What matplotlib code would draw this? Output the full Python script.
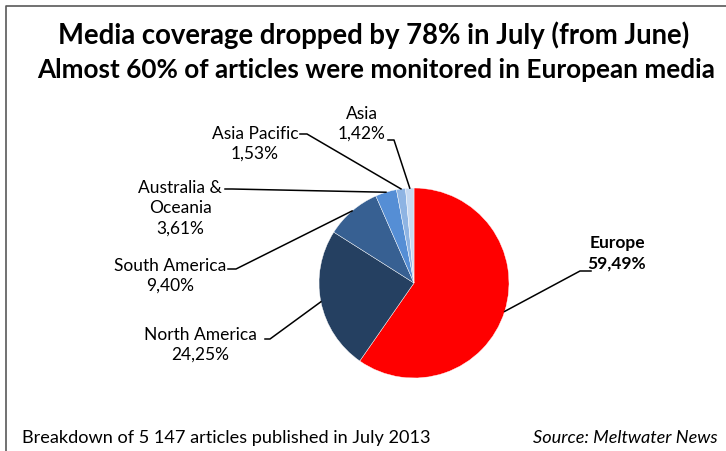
import numpy as np
import matplotlib
matplotlib.use("Agg")
import matplotlib.pyplot as plt

regions = ["Europe", "North America", "South America", "Australia &\nOceania",
           "Asia Pacific", "Asia"]
shares = [59.49, 24.25, 9.40, 3.61, 1.53, 1.42]
share_labels = ["59,49%", "24,25%", "9,40%", "3,61%", "1,53%", "1,42%"]
colors = ["#FF0000", "#254061", "#376092", "#558ED5", "#8EB4E3", "#C6D9F1"]

title1 = "Media coverage dropped by 78% in July (from June)"
title2 = "Almost 60% of articles were monitored in European media"
footer_left = "Breakdown of 5 147 articles published in July 2013"
footer_right = "Source: Meltwater News"

W, H = 726, 451
plt.rcParams['font.family'] = ['Lato', 'DejaVu Sans']

fig = plt.figure(figsize=(W / 100, H / 100), dpi=100)
ax = fig.add_axes([0, 0, 1, 1])
ax.set_xlim(0, W)
ax.set_ylim(0, H)
ax.set_aspect('equal')
ax.axis('off')

def py(y):
    # pixel row (from top) -> data y
    return H - y

# frame on top and left, as in the cropped screenshot
ax.plot([6, 6, W], [0, py(6), py(6)], color="#595959", lw=1.2)

cx, cy, r = 414, 283, 95
wedges, _ = ax.pie(shares, colors=colors, startangle=90, counterclock=False,
                   center=(cx, py(cy)), radius=r,
                   wedgeprops=dict(edgecolor="white", linewidth=0.3))
ax.set_xlim(0, W)
ax.set_ylim(0, H)

# label layout: text centre (x, y), elbow start, elbow end (pixels)
layout = [
    ((617, 253), (591, 271), (580, 271)),
    ((200, 345), (265, 339), (270, 339)),
    ((170, 276), (228, 269), (236, 269)),
    ((180, 208), (225, 189), (232, 189)),
    ((255, 144), (300, 134), (307, 134)),
    ((362, 124), (388, 140), (394, 140)),
]

for i, w in enumerate(wedges):
    mid = np.deg2rad((w.theta1 + w.theta2) / 2)
    ex = cx + r * np.cos(mid)
    ey = py(cy) + r * np.sin(mid)
    (tx, ty), (ax1, ay1), (ax2, ay2) = layout[i]
    ax.plot([ax1, ax2, ex], [py(ay1), py(ay2), ey], color="black", lw=1.1)
    bold = 'bold' if i == 0 else 'normal'
    ax.text(tx, py(ty), regions[i] + "\n" + share_labels[i], ha='center',
            va='center', fontsize=12.5, fontweight=bold, linespacing=1.32)

ax.text(374, py(35), title1, ha='center', va='center', fontsize=19.8,
        fontweight='bold')
ax.text(376, py(70), title2, ha='center', va='center', fontsize=18.8,
        fontweight='bold')
ax.text(22, py(438), footer_left, ha='left', va='center', fontsize=13.1)
ax.text(718, py(438), footer_right, ha='right', va='center', fontsize=13.1,
        style='italic')

fig.savefig("out.png", dpi=100)
